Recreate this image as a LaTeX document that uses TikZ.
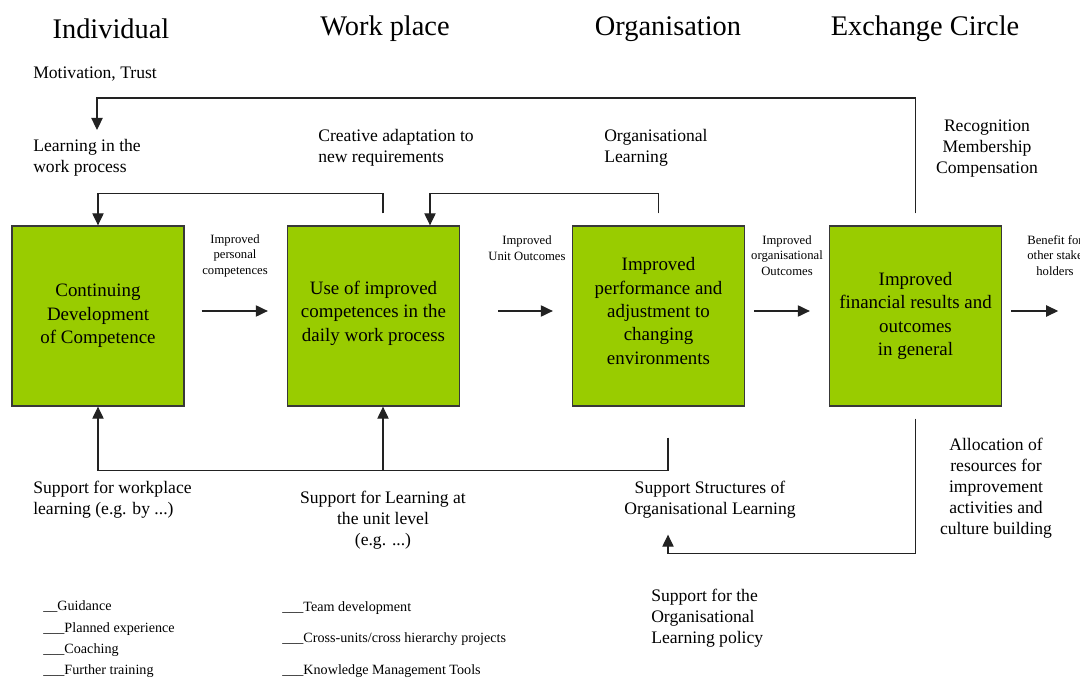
\documentclass[tikz,border=0pt]{standalone}
\usepackage{fontspec}
\setmainfont{Liberation Serif}
\usepackage{tikz}
\usetikzlibrary{positioning,arrows.meta,calc}

\definecolor{boxgreen}{HTML}{99CC00}
\definecolor{inkgray}{HTML}{222222}

\tikzset{
  stagebox/.style={draw=inkgray!90, line width=1pt, fill=boxgreen, minimum width=129pt, minimum height=135pt, inner sep=2pt, align=center, font=\fontsize{14.2}{17.6}\selectfont},
  heading/.style={font=\fontsize{21.3}{25}\selectfont},
  lbl/.style={font=\fontsize{13.2}{15.75}\selectfont, inner sep=0pt},
  small/.style={font=\fontsize{9.5}{11.6}\selectfont, inner sep=0pt, align=center},
  lst/.style={font=\fontsize{10.6}{12}\selectfont, inner sep=0pt, anchor=west},
  fb/.style={draw=inkgray, line width=0.8pt, -{Triangle[length=9pt,width=8.5pt]}},
  ln/.style={draw=inkgray, line width=0.8pt}
}

\begin{document}
\begin{tikzpicture}[x=0.75pt,y=-0.75pt]
\useasboundingbox (0,0) rectangle (1080,680);

% column headings
\node[heading] (hind) at (111,29) {Individual};
\node[heading] (hwp) at (385,29) {Work place};
\node[heading] (horg) at (668,29) {Organisation};
\node[heading] (hexc) at (925,29) {Exchange Circle};

% the four stages
\node[stagebox] (b1) at (98,316) {Continuing\\Development\\of Competence};
\node[stagebox] (b2) at (373.5,316) {Use of improved\\competences in the\\daily work process\\[-10pt]};
\node[stagebox] (b3) at (658.5,316) {Improved\\performance and\\adjustment to\\changing\\environments\\[-10pt]};
\node[stagebox] (b4) at (915.5,316) {Improved\\financial results and\\outcomes\\in general};

% forward arrows
\draw[fb] ($(b1.east)+(17,-5)$) -- ($(b2.west)+(-19,-5)$);
\draw[fb] ($(b2.east)+(38,-5)$) -- ($(b3.west)+(-19,-5)$);
\draw[fb] ($(b3.east)+(9,-5)$) -- ($(b4.west)+(-19,-5)$);
\coordinate (out) at ($(b4.east)+(56,-5)$);
\draw[fb] ($(b4.east)+(9,-5)$) -- (out);

\node[small] (o1) at (235,255.5) {Improved\\personal\\competences};
\node[small] (o2) at (527,248) {Improved\\Unit Outcomes};
\node[small] (o3) at (787,255.5) {Improved\\organisational\\Outcomes};
\node[small] (o4) at (1055,255.5) {Benefit for\\other stake\\holders};

% feedback loops above
\coordinate (lrnin) at (97,130);
\draw[fb] ($(b4.north)+(0,-12)$) |- ($(lrnin)+(0,-32)$) -- (lrnin);
\draw[fb] ($(b2.north)+(9.5,-12)$) -- ++(0,-20) -| (b1.north);
\draw[fb] ($(b3.north)+(0,-12)$) -- ++(0,-20) -| ($(b2.north)+(56.5,0)$);

\node[lbl, anchor=west] (mot) at (33,74) {Motivation, Trust};
\node[lbl, anchor=west, align=left] (lrn) at (33,158) {Learning in the\\work process};
\node[lbl, anchor=west, align=left] (cre) at (318,148) {Creative adaptation to\\new requirements};
\node[lbl, anchor=west, align=left] (orgl) at (604,148) {Organisational\\Learning};
\node[lbl, align=center] (rec) at (987,149) {Recognition\\Membership\\Compensation};

% support loops below
\coordinate (jn) at ($(b2.south)+(9.5,64)$);
\draw[fb] ($(b3.south)+(9.5,31)$) |- (jn) -| (b1.south);
\draw[fb] (jn) -- ($(b2.south)+(9.5,0)$);
\coordinate (ssin) at ($(b3.south)+(9.5,128)$);
\draw[fb] ($(b4.south)+(0,12)$) |- ($(ssin)+(0,19)$) -- (ssin);

\node[lbl, anchor=west, align=left] (swp) at (33,499.5) {Support for workplace\\learning (e.g. by ...)};
\node[lbl, align=center] (sul) at (383,520.5) {Support for Learning at\\the unit level\\(e.g. ...)};
\node[lbl, align=center] (sso) at (710,499.5) {Support Structures of\\Organisational Learning};
\node[lbl, align=center] (alc) at (996,488) {Allocation of\\resources for\\improvement\\activities and\\culture building};
\node[lbl, anchor=west, align=left] (pol) at (651,618) {Support for the\\Organisational\\Learning policy};

% checklists
\node[lst] (l1) at (43,607) {\_\_Guidance};
\node[lst] (l2) at (43,629) {\_\_\_Planned experience};
\node[lst] (l3) at (43,650) {\_\_\_Coaching};
\node[lst] (l4) at (43,671) {\_\_\_Further training};
\node[lst] (r1) at (282,608) {\_\_\_Team development};
\node[lst] (r2) at (282,639) {\_\_\_Cross-units/cross hierarchy projects};
\node[lst] (r3) at (282,671) {\_\_\_Knowledge Management Tools};
\end{tikzpicture}
\end{document}
